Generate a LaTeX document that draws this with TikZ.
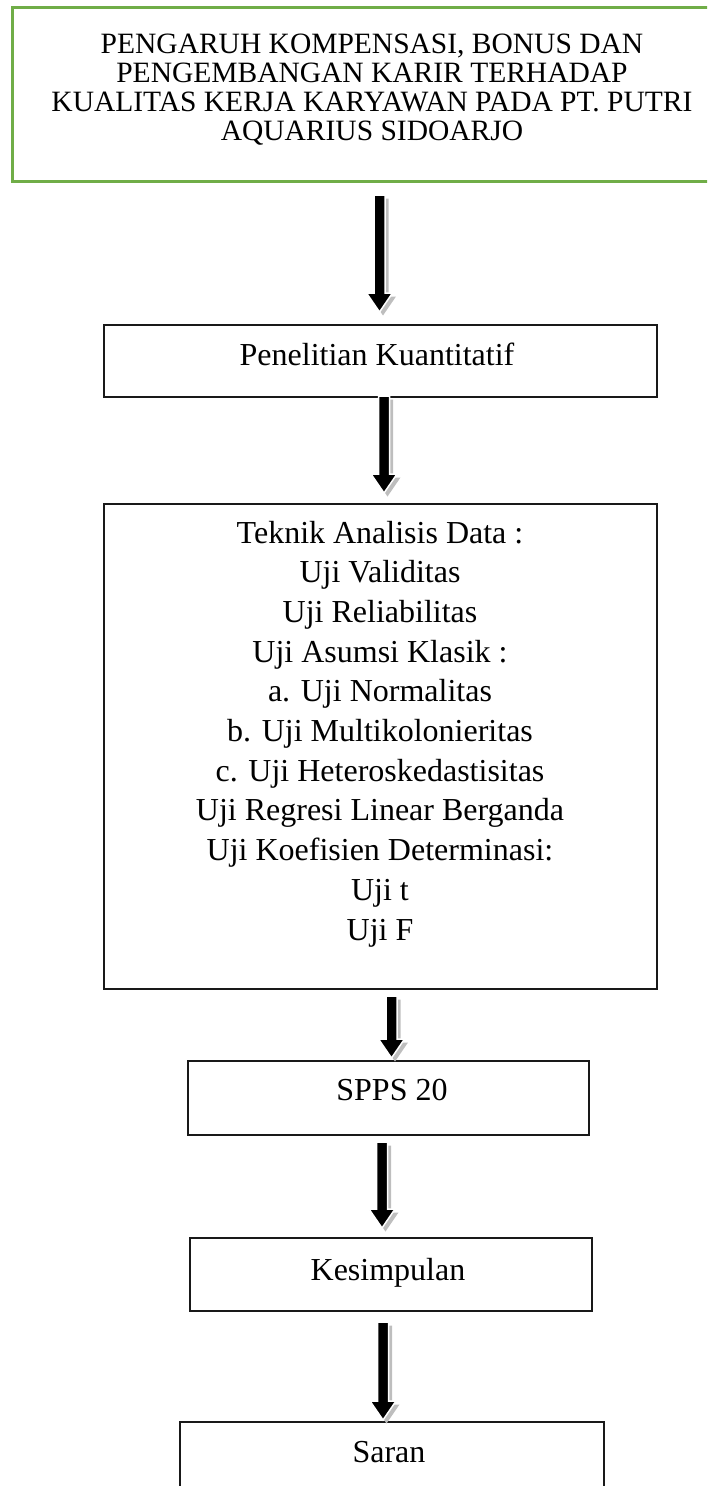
\documentclass[tikz,border=0pt]{standalone}
\usepackage{fontspec}
\setmainfont{Liberation Serif}
\usetikzlibrary{calc}
\definecolor{framegreen}{RGB}{112,173,71}
\definecolor{shadowgray}{RGB}{190,190,190}

\tikzset{
  stagebox/.style={draw=black!90, line width=2pt, rectangle, inner sep=0pt, anchor=north west},
  titleframe/.style={draw=framegreen, line width=3pt, rectangle, inner sep=0pt, anchor=north west},
  % multi-line texts are placed by the baseline of their last line
  boxtext/.style={inner sep=0pt, anchor=base, align=center, font=\fontsize{32}{39.7}\selectfont},
  titletext/.style={inner sep=0pt, anchor=base, align=center, font=\fontsize{29.5}{29}\selectfont},
  % block arrow from the start point straight down to the target point
  blockarrow/.style={to path={
    let \p1=(\tikztostart), \p2=(\tikztotarget) in
    (\x1-5.5pt,\y1) -- (\x1+5.5pt,\y1) -- (\x1+5.5pt,\y2+19pt) -- (\x1+13pt,\y2+19pt)
    -- (\x1,\y2) -- (\x1-13pt,\y2+19pt) -- (\x1-5.5pt,\y2+19pt) -- cycle}},
  arrowshadow/.style={blockarrow, fill=shadowgray, draw=none,
    transform canvas={shift={(3.5pt,-3.5pt)}}},
  arrowbody/.style={blockarrow, fill=black, draw=white, line width=1.5pt, line join=miter}
}

\begin{document}
\begin{tikzpicture}[x=1pt,y=-1pt]
\useasboundingbox (0,0) rectangle (707,1486);
\begin{scope}
\clip (0,0) rectangle (707,1486);

% frames
\node[titleframe, minimum width=725, minimum height=174] (title) at (11,6) {};
\node[stagebox, minimum width=553, minimum height=72]  (quant)  at (103,324) {};
\node[stagebox, minimum width=553, minimum height=485] (analysis) at (103,503) {};
\node[stagebox, minimum width=401, minimum height=74]  (spss)   at (187,1060) {};
\node[stagebox, minimum width=402, minimum height=73]  (concl)  at (189,1237) {};
\node[stagebox, minimum width=424, minimum height=120] (advice) at (179,1421) {};

% texts
\node[titletext] (titletxt) at (372,140)
  {PENGARUH KOMPENSASI, BONUS DAN\\PENGEMBANGAN KARIR TERHADAP\\KUALITAS KERJA KARYAWAN PADA PT. PUTRI\\AQUARIUS SIDOARJO};
\node[boxtext] (quanttxt) at (377,365) {Penelitian Kuantitatif};
\node[boxtext] (analysistxt) at (380,940)
  {Teknik Analisis Data :\\Uji Validitas\\Uji Reliabilitas\\Uji Asumsi Klasik :\\a. Uji Normalitas\\b. Uji Multikolonieritas\\c. Uji Heteroskedastisitas\\Uji Regresi Linear Berganda\\Uji Koefisien Determinasi:\\Uji t\\Uji F};
\node[boxtext] (spsstxt) at (392,1100) {SPPS 20};
\node[boxtext] (concltxt) at (388,1280) {Kesimpulan};
\node[boxtext] (advicetxt) at (389,1462) {Saran};

% arrows: shadow first, then the outlined body
\foreach \st in {arrowshadow, arrowbody} {
  \draw[\st] ([xshift=4.5,yshift=-12]title.south) to ([xshift=4.5,yshift=12]quant.north);
  \draw[\st] ([xshift=3.5,yshift=2]quant.south) to ([xshift=3.5,yshift=10]analysis.north);
  \draw[\st] ([xshift=11,yshift=-6]analysis.south) to ([xshift=11,yshift=2]spss.north);
  \draw[\st] ([xshift=-6.5,yshift=-6]spss.south) to ([xshift=-6.5,yshift=9]concl.north);
  \draw[\st] ([xshift=-8,yshift=-10]concl.south) to ([xshift=-8,yshift=1]advice.north);
}
\end{scope}
\end{tikzpicture}
\end{document}
